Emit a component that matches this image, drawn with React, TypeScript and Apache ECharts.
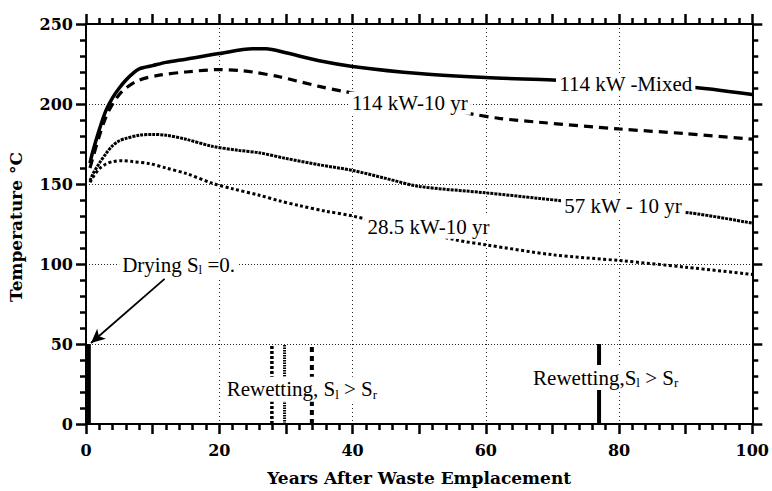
import React, { useEffect, useRef } from "react";
import * as echarts from "echarts";

// Temperature histories [years, °C]
const mixed114 = [
  [0.6, 163], [1, 170], [2, 184], [3, 196], [4, 204], [5, 210], [6, 215], [7, 219],
  [8, 222], [10, 224], [12, 226], [15, 228], [20, 231.5], [25, 234.5], [27, 234.5],
  [30, 232], [35, 227], [40, 223.5], [50, 219], [60, 216.5], [70, 215], [80, 213],
  [90, 211], [100, 206],
];
const tenYr114 = [
  [0.6, 160], [1, 166], [2, 180], [3, 192], [4, 200], [5, 206], [6, 210], [8, 215],
  [11, 218], [15, 220], [20, 221.5], [23, 221], [25, 220], [29, 217], [35, 211],
  [38.5, 208], [58, 193.7], [62, 191], [68, 188.6], [80, 184.4], [90, 181.5], [100, 178],
];
const tenYr57 = [
  [0.6, 152], [1, 156], [2, 163], [3, 169], [4, 174], [5, 177], [6, 178.5], [8, 180.5],
  [10, 181], [12, 180.5], [15, 178], [19, 173.5], [23, 171], [26, 169.5], [30, 166],
  [35, 162], [40, 158.5], [45, 153.5], [50, 148.5], [60, 144.5], [68, 141], [71.5, 139.5],
  [90.5, 132], [100, 125.5],
];
const tenYr28 = [
  [0.6, 151], [1, 154], [2, 159.5], [3, 162.5], [4, 164], [5.5, 164.6], [7, 164],
  [9.6, 162.7], [12, 160], [15, 156.6], [19, 150.4], [22, 147], [26, 143], [29, 139.5],
  [32, 136.5], [36, 133], [40, 130], [55.6, 115], [60, 112], [70, 105.8], [80.5, 102],
  [90, 98], [100, 93.5],
];

// Saturation events: [year, lower °C, upper °C]
const dryingMark = [0.35, 0, 50];
const rewetMarks = [
  [27.9, 0, 50],
  [29.8, 0, 50],
  [33.9, 0, 50],
  [77, 0, 50],
];

// Annotation texts anchored in data space: [year, °C, text]
const annotations: [number, number, string][] = [
  [81.0, 212.2, "114 kW -Mixed"],
  [48.6, 200.5, "114 kW-10 yr"],
  [80.6, 136, "57 kW - 10 yr"],
  [51.4, 123, "28.5 kW-10 yr"],
  [13.9, 99.6, "Drying {s|S}{sub|l} =0."],
  [32.4, 21.7, "Rewetting, {s|S}{sub|l} > {s|S}{sub|r}"],
  [78.0, 29, "Rewetting,{s|S}{sub|l} > {s|S}{sub|r}"],
];
const dryingArrow = [
  [11.8, 90.7],
  [0.75, 50.6],
];

const xRange = { min: 0, max: 100, interval: 20 };
const yRange = { min: 0, max: 250, interval: 50 };

const serif = "'Liberation Serif', 'DejaVu Serif', serif";
const boldSerif = "'DejaVu Serif', serif";

export default function App() {
  const ref = useRef<HTMLDivElement>(null);

  useEffect(() => {
    if (!ref.current) return;
    const chart = echarts.init(ref.current, undefined, { renderer: "svg" });

    const tickLabel = {
      color: "#000",
      fontFamily: boldSerif,
      fontWeight: "bold" as const,
      fontSize: 16,
    };
    const axisLine = { show: true, onZero: false, lineStyle: { color: "#000", width: 2 } };
    const tickStyle = { color: "#000", width: 2.5 };
    const majorTick = { show: true, inside: false, length: 10, lineStyle: tickStyle };
    const minorTick = (splitNumber: number) => ({
      show: true,
      splitNumber,
      length: 6,
      lineStyle: tickStyle,
    });

    // Frame axis that only carries tick marks
    const tickAxis = (position: string, min: number, max: number, interval: number, split: number) => ({
      type: "value",
      position,
      min,
      max,
      interval,
      axisLine,
      axisTick: majorTick,
      minorTick: minorTick(split),
      axisLabel: { show: false },
      splitLine: { show: false },
    });

    const curve = (name: string, data: number[][], width: number, type: any) => ({
      name,
      type: "line",
      data,
      smooth: 0.3,
      showSymbol: false,
      symbol: "none",
      xAxisIndex: 0,
      yAxisIndex: 0,
      lineStyle: { color: "#000", width, type, cap: "butt" },
      z: 3,
    });

    const bar = (m: number[], width: number, type: any) => ({
      type: "line",
      data: [
        [m[0], m[1]],
        [m[0], m[2]],
      ],
      symbol: "none",
      xAxisIndex: 0,
      yAxisIndex: 0,
      lineStyle: { color: "#000", width, type, cap: "butt" },
      z: 2,
    });

    chart.setOption({
      animation: false,
      backgroundColor: "#fff",
      grid: { left: 86, right: 17, top: 24, bottom: 62 },
      xAxis: [
        {
          type: "value",
          position: "bottom",
          ...xRange,
          axisLine,
          axisTick: { show: false },
          axisLabel: { ...tickLabel, margin: 18 },
          splitLine: { show: true, lineStyle: { color: "#222", width: 1, type: [1, 3] } },
          name: "Years After Waste Emplacement",
          nameLocation: "middle",
          nameGap: 45,
          nameTextStyle: {
            color: "#000",
            fontFamily: boldSerif,
            fontWeight: "bold",
            fontSize: 17,
          },
        },
        tickAxis("top", xRange.min, xRange.max, 10, 5),
        tickAxis("bottom", xRange.min, xRange.max, 10, 5),
      ],
      yAxis: [
        {
          type: "value",
          position: "left",
          ...yRange,
          axisLine,
          axisTick: { show: false },
          axisLabel: { ...tickLabel, margin: 13 },
          splitLine: { show: true, lineStyle: { color: "#222", width: 1, type: [1, 2] } },
        },
        tickAxis("right", yRange.min, yRange.max, yRange.interval, 5),
        tickAxis("left", yRange.min, yRange.max, yRange.interval, 5),
      ],
      series: [
        curve("114 kW -Mixed", mixed114, 3.5, "solid"),
        curve("114 kW-10 yr", tenYr114, 3.2, [9, 6]),
        curve("57 kW - 10 yr", tenYr57, 3, [3, 1]),
        curve("28.5 kW-10 yr", tenYr28, 3, [3, 2.5]),
        bar(dryingMark, 5, "solid"),
        bar(rewetMarks[0], 3.5, [3, 2]),
        bar(rewetMarks[1], 3, [1.5, 1]),
        bar(rewetMarks[2], 4, [5, 4]),
        bar(rewetMarks[3], 4, "solid"),
        {
          type: "line",
          data: [],
          xAxisIndex: 0,
          yAxisIndex: 0,
          markLine: {
            silent: true,
            symbol: ["none", "arrow"],
            symbolSize: [10, 14],
            label: { show: false },
            lineStyle: { color: "#000", width: 1.8, type: "solid" },
            data: [[{ coord: dryingArrow[0] }, { coord: dryingArrow[1] }]],
          },
          z: 4,
        },
      ],
    });

    const toPx = (x: number, y: number) =>
      chart.convertToPixel({ gridIndex: 0 }, [x, y]) as number[];

    // Text annotations on white boxes over the curves
    const texts = annotations.map((a) => {
      const [px, py] = toPx(a[0], a[1]);
      return {
        type: "text",
        x: px,
        y: py,
        z: 100,
        style: {
          text: a[2],
          fill: "#000",
          font: `21px ${serif}`,
          align: "center",
          verticalAlign: "middle",
          backgroundColor: "#fff",
          padding: [1, 3],
          rich: {
            s: { fontFamily: serif, fontSize: 21, fill: "#000" },
            sub: { fontFamily: serif, fontSize: 13, fill: "#000", padding: [10, 0, 0, 0] },
          },
        },
      };
    });

    chart.setOption({
      graphic: [
        {
          type: "text",
          x: 16,
          y: 227,
          rotation: Math.PI / 2,
          z: 100,
          style: {
            text: "Temperature °C",
            fill: "#000",
            font: `bold 17px ${boldSerif}`,
            align: "center",
            verticalAlign: "middle",
          },
        },
        ...texts,
      ],
    });

    return () => chart.dispose();
  }, []);

  return <div ref={ref} style={{ width: 772, height: 491, position: "absolute", left: 0, top: 0 }} />;
}
